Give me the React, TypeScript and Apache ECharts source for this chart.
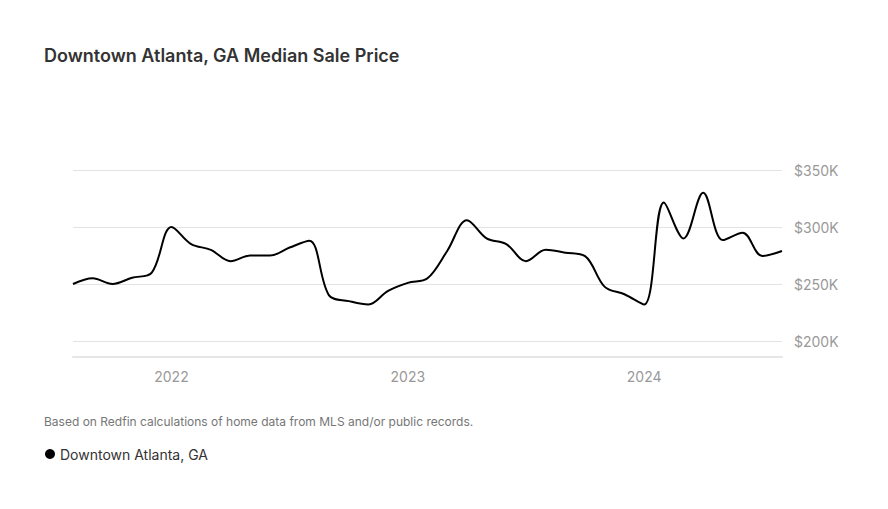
import React, { useEffect, useRef } from "react";
import * as echarts from "echarts";

const months: string[] = [
  "2021-08", "2021-09", "2021-10", "2021-11", "2021-12",
  "2022-01", "2022-02", "2022-03", "2022-04", "2022-05", "2022-06",
  "2022-07", "2022-08", "2022-09", "2022-10", "2022-11", "2022-12",
  "2023-01", "2023-02", "2023-03", "2023-04", "2023-05", "2023-06",
  "2023-07", "2023-08", "2023-09", "2023-10", "2023-11", "2023-12",
  "2024-01", "2024-02", "2024-03", "2024-04", "2024-05", "2024-06",
  "2024-07", "2024-08",
];

const medianPrice: number[] = [
  250000, 255000, 250000, 255500, 260000,
  300000, 285000, 280000, 270000, 275000, 275000,
  282000, 288000, 240000, 235000, 232000, 244000,
  251000, 255000, 279000, 306000, 290000, 285000,
  270000, 280000, 277500, 274500, 247500, 241000,
  232000, 321500, 290000, 330000, 288500, 295000,
  274500, 279000,
];

const yTicks: number[] = [200000, 250000, 300000, 350000];

const titleText = "Downtown Atlanta, GA Median Sale Price";
const footnote = "Based on Redfin calculations of home data from MLS and/or public records.";
const seriesName = "Downtown Atlanta, GA";

const FONT = "Inter, 'Noto Sans', sans-serif";

export default function App() {
  const ref = useRef<HTMLDivElement>(null);
  useEffect(() => {
    if (!ref.current) return;
    const chart = echarts.init(ref.current, null, { renderer: "svg" });
    chart.setOption({
      animation: false,
      backgroundColor: "#ffffff",
      textStyle: { fontFamily: FONT },
      title: {
        text: titleText,
        left: 31,
        top: 33,
        textStyle: { fontSize: 18, fontWeight: 600, color: "#333333", fontFamily: FONT },
      },
      graphic: [
        {
          type: "text",
          left: 36,
          top: 407,
          style: { text: footnote, fontSize: 12, fill: "#767676", fontFamily: FONT },
        },
      ],
      legend: {
        left: 32,
        top: 434,
        icon: "circle",
        itemWidth: 10,
        itemHeight: 10,
        itemGap: 10,
        textStyle: { fontSize: 14, color: "#333333", fontFamily: FONT },
        data: [seriesName],
      },
      grid: { left: 65, right: 98, top: 162, bottom: 160 },
      xAxis: {
        type: "category",
        data: months,
        boundaryGap: false,
        offset: 16,
        axisLine: { show: true, lineStyle: { color: "#e6e6e6", width: 2 } },
        axisTick: { show: false },
        axisLabel: {
          interval: (_i: number, v: string) => v.endsWith("-01"),
          formatter: (v: string) => v.slice(0, 4),
          color: "#999999",
          fontSize: 14,
          margin: 12,
          fontFamily: FONT,
        },
        splitLine: { show: false },
      },
      yAxis: {
        type: "value",
        position: "right",
        min: yTicks[0],
        max: yTicks[yTicks.length - 1],
        interval: 50000,
        axisLine: { show: false },
        axisTick: { show: false },
        axisLabel: {
          formatter: (v: number) => "$" + Math.round(v / 1000) + "K",
          color: "#999999",
          fontSize: 14,
          margin: 12,
          fontFamily: FONT,
        },
        splitLine: { lineStyle: { color: "#e3e3e3", width: 1 } },
      },
      series: [
        {
          name: seriesName,
          type: "line",
          data: medianPrice,
          smooth: 0.35,
          showSymbol: false,
          symbol: "circle",
          itemStyle: { color: "#000000" },
          lineStyle: { color: "#000000", width: 2 },
        },
      ],
    });
    return () => chart.dispose();
  }, []);
  return <div ref={ref} style={{ width: 872, height: 493 }} />;
}
